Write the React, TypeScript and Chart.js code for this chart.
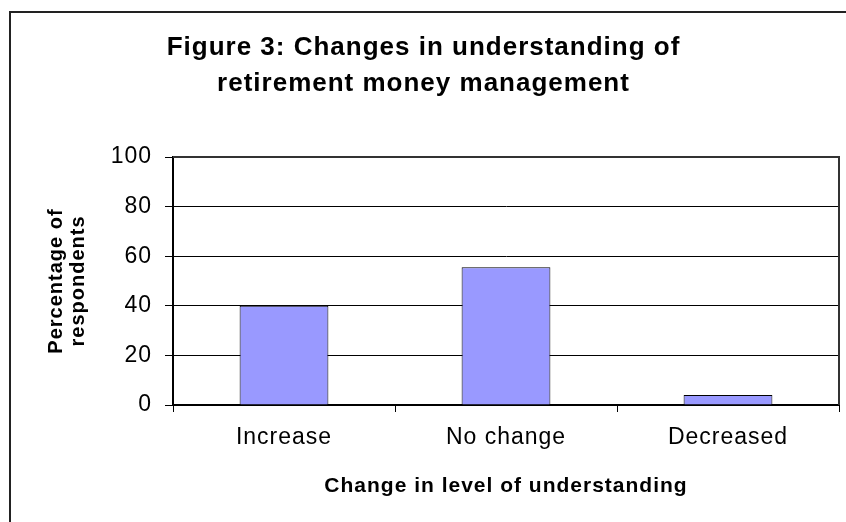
import React, { useEffect, useRef } from "react";
import { Chart, registerables } from "chart.js";

Chart.register(...registerables);

const categories = ["Increase", "No change", "Decreased"];
const percentages = [40, 55.5, 4];
const yTicks = [0, 20, 40, 60, 80, 100];
const titleLines = ["Figure 3: Changes in understanding of", "retirement money management"];
const yTitleLines = ["Percentage of", "respondents"];
const xTitle = "Change in level of understanding";

const FONT = "'Liberation Sans', Arial, Helvetica, sans-serif";

const spacingPlugin = {
  id: "spacing",
  beforeLayout(chart: any) {
    chart.ctx.letterSpacing = "1px";
  },
  beforeDraw(chart: any) {
    chart.ctx.letterSpacing = "1px";
  },
};

const framePlugin = {
  id: "frame",
  afterDraw(chart: any) {
    const { ctx, chartArea: a } = chart;
    ctx.save();
    ctx.fillStyle = "#222";
    ctx.fillRect(9, 11, 900, 2);
    ctx.fillRect(9, 11, 2, 600);
    ctx.fillStyle = "#333";
    ctx.fillRect(a.left, a.top - 1, a.right - a.left + 1, 2);
    ctx.fillRect(a.right - 1, a.top - 1, 2, a.bottom - a.top + 1);
    ctx.restore();
  },
};

export default function App() {
  const ref = useRef<HTMLCanvasElement | null>(null);

  useEffect(() => {
    if (!ref.current) return;
    const chart = new Chart(ref.current, {
      type: "bar",
      data: {
        labels: categories,
        datasets: [
          {
            data: percentages,
            backgroundColor: "#9999FF",
            borderColor: "#000000",
            borderWidth: 1,
            barPercentage: 0.4,
            categoryPercentage: 1,
          },
        ],
      },
      options: {
        responsive: false,
        animation: false,
        layout: { padding: { left: 8, right: 7, top: 0, bottom: 0 } },
        plugins: {
          legend: { display: false },
          tooltip: { enabled: false },
          title: {
            display: true,
            text: titleLines,
            color: "#000",
            font: { family: FONT, size: 26, weight: "bold", lineHeight: "36px" },
            padding: { top: 30, bottom: 55 },
          },
        },
        scales: {
          x: {
            grid: {
              display: true,
              drawOnChartArea: false,
              drawTicks: true,
              tickLength: 7,
              color: "#000",
              lineWidth: 1,
              offset: true,
            },
            border: { display: true, color: "#000", width: 2 },
            ticks: {
              color: "#000",
              font: { family: FONT, size: 23, lineHeight: 1.2 },
              padding: 11.5,
              maxRotation: 0,
            },
            title: {
              display: true,
              text: xTitle,
              color: "#000",
              font: { family: FONT, size: 21, weight: "bold", lineHeight: 1.2 },
              padding: { top: 0, bottom: 23 },
            },
            afterFit(scale: any) {
              scale.height = 117;
            },
          },
          y: {
            min: 0,
            max: 100,
            afterBuildTicks(scale: any) {
              scale.ticks = yTicks.map((v) => ({ value: v }));
            },
            grid: {
              color: "#000",
              lineWidth: 1,
              drawTicks: true,
              tickLength: 8,
            },
            border: { display: true, color: "#000", width: 2 },
            ticks: {
              color: "#000",
              font: { family: FONT, size: 23, lineHeight: 1.2 },
              padding: 13,
            },
            title: {
              display: true,
              text: yTitleLines,
              color: "#000",
              font: { family: FONT, size: 20, weight: "bold", lineHeight: "22px" },
              padding: { top: 37, bottom: 0 },
            },
            afterFit(scale: any) {
              scale.width = 165;
            },
          },
        },
      },
      plugins: [spacingPlugin, framePlugin],
    });
    return () => chart.destroy();
  }, []);

  return (
    <div style={{ position: "fixed", left: 0, top: 0, width: 846, height: 522, background: "#fff" }}>
      <canvas ref={ref} width={846} height={522} style={{ display: "block" }} />
    </div>
  );
}
